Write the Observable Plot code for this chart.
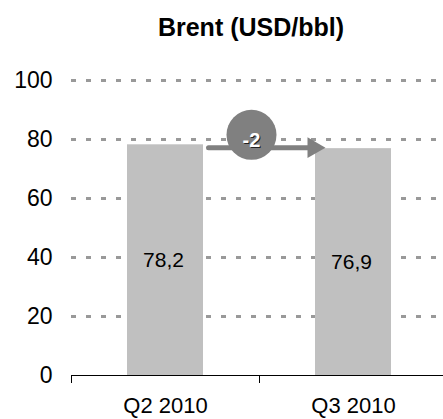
<!DOCTYPE html>
<html>
<head>
<meta charset="utf-8">
<script src="https://cdn.jsdelivr.net/npm/d3@7"></script>
<script src="https://cdn.jsdelivr.net/npm/@observablehq/plot@0.6"></script>
<style>
  html, body { margin: 0; padding: 0; background: #fff; }
  #title { height: 37px; padding-top: 13px; line-height: 50px; padding-left: 59px; width: 384px; text-align: center;
           font: bold 25px "Liberation Sans", Arial, sans-serif; color: #000; overflow: visible; }
</style>
</head>
<body>
<div id="title">Brent (USD/bbl)</div>
<div id="chart"></div>
<script>
const categories = ["Q2 2010", "Q3 2010"];
const values = [78.2, 76.9];
const yTicks = [0, 20, 40, 60, 80, 100];
const changeLabel = ["-2"];

const data = categories.map((c, i) => ({cat: c, value: values[i]}));
const fmt = v => v.toFixed(1).replace(".", ",");

const rightTriangle = {
  draw(context, size) {
    const y = Math.sqrt(size / (Math.sqrt(3) * 3));
    context.moveTo(2 * y, 0);
    context.lineTo(-y, -Math.sqrt(3) * y);
    context.lineTo(-y, Math.sqrt(3) * y);
    context.closePath();
  }
};

const chart = Plot.plot({
  width: 443,
  height: 369,
  marginLeft: 71,
  marginRight: 0,
  marginTop: 30,
  marginBottom: 44,
  style: {fontFamily: "'Liberation Sans', Arial, sans-serif", fontSize: "23px", color: "#000", background: "#fff", overflow: "visible"},
  x: {domain: categories, range: [71, 447], padding: 0, label: null},
  y: {domain: [0, 100], label: null},
  marks: [
    Plot.gridY(yTicks.filter(d => d > 0), {stroke: "#999", strokeOpacity: 1, strokeWidth: 3, strokeDasharray: "5,10"}),
    Plot.barY(data, {x: "cat", y: "value", fill: "#c0c0c0", insetLeft: 56, insetRight: 56}),
    Plot.text(data, {x: "cat", y: d => d.value / 2, text: d => fmt(d.value), fill: "#000", fontSize: 21, dx: -2}),
    Plot.ruleY([0], {stroke: "#000", strokeWidth: 1}),
    Plot.axisY({ticks: yTicks, tickSize: 0, tickPadding: 19, fontSize: 23}),
    Plot.axisX({tickSize: 8, tickFormat: () => "", dx: -94, stroke: "#000"}),
    Plot.axisX({tickSize: 0, tickPadding: 22, fontSize: 22}),
    Plot.arrow([0], {x1: () => categories[0], x2: () => categories[1], y1: () => values[1], y2: () => values[1],
      insetStart: 43, insetEnd: 40, headLength: 0, stroke: "#808080", strokeWidth: 5, dy: -1}),
    Plot.dot([0], {x: () => categories[1], y: () => values[1], dx: -40, dy: -1, symbol: rightTriangle, r: 7.7, fill: "#808080", stroke: "none"}),
    Plot.dot(changeLabel, {x: () => categories[0], y: () => values[0], dx: 86, dy: -10, r: 25, fill: "#808080", stroke: "none"}),
    Plot.text(changeLabel, {x: () => categories[0], y: () => values[0], dx: 87, dy: -3, text: d => d, fill: "#222", fontSize: 20, fontWeight: "bold"}),
    Plot.text(changeLabel, {x: () => categories[0], y: () => values[0], dx: 86, dy: -4, text: d => d, fill: "#fff", fontSize: 20, fontWeight: "bold"})
  ]
});
document.getElementById("chart").appendChild(chart);
</script>
</body>
</html>
